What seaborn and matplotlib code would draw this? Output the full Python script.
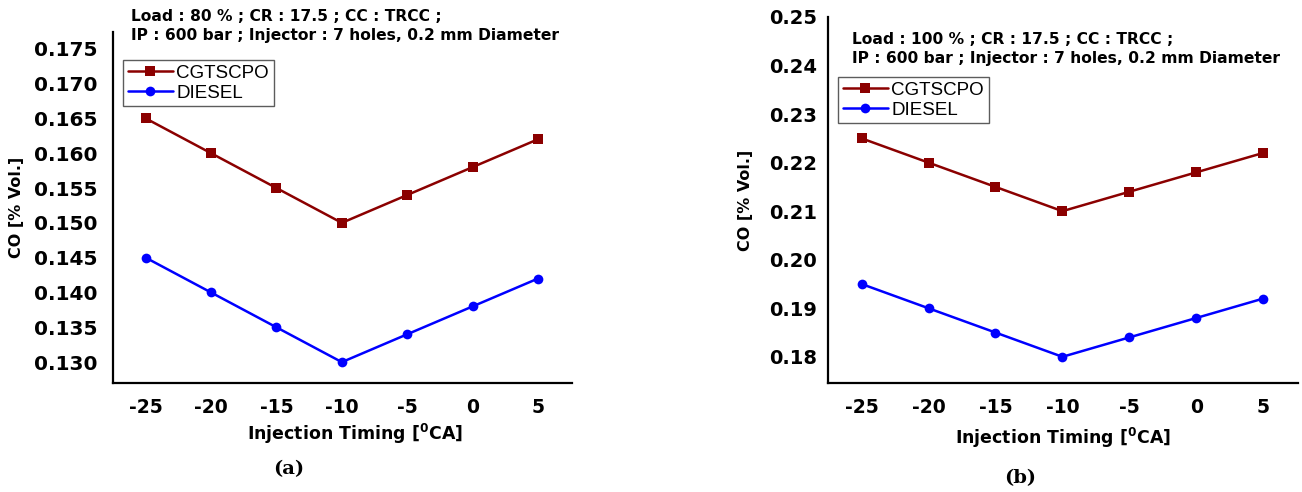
import numpy as np
import pandas as pd
import matplotlib
matplotlib.use("Agg")
import matplotlib.pyplot as plt
import seaborn as sns

# Injection timing sweep [deg CA]
timing = [-25, -20, -15, -10, -5, 0, 5]

# CO emissions [% Vol.] at 80 % load
co_cgtscpo_80 = [0.165, 0.160, 0.155, 0.150, 0.154, 0.158, 0.162]
co_diesel_80 = [0.145, 0.140, 0.135, 0.130, 0.134, 0.138, 0.142]

# CO emissions [% Vol.] at 100 % load
co_cgtscpo_100 = [0.225, 0.220, 0.215, 0.210, 0.214, 0.218, 0.222]
co_diesel_100 = [0.195, 0.190, 0.185, 0.180, 0.184, 0.188, 0.192]

fuels = ["CGTSCPO", "DIESEL"]
yticks_80 = [0.130, 0.135, 0.140, 0.145, 0.150, 0.155, 0.160, 0.165, 0.170, 0.175]
yticks_100 = [0.18, 0.19, 0.20, 0.21, 0.22, 0.23, 0.24, 0.25]
notes_80 = ["Load : 80 % ; CR : 17.5 ; CC : TRCC ;",
            "IP : 600 bar ; Injector : 7 holes, 0.2 mm Diameter"]
notes_100 = ["Load : 100 % ; CR : 17.5 ; CC : TRCC ;",
             "IP : 600 bar ; Injector : 7 holes, 0.2 mm Diameter"]


def make_frame(cgtscpo, diesel):
    return pd.DataFrame({
        "timing": timing * 2,
        "co": cgtscpo + diesel,
        "fuel": [fuels[0]] * len(timing) + [fuels[1]] * len(timing),
    })


sns.set_style("white")
plt.rcParams["font.family"] = ["DejaVu Sans"]
plt.rcParams["mathtext.fontset"] = "custom"
plt.rcParams["mathtext.bf"] = "DejaVu Sans:bold"
plt.rcParams["mathtext.rm"] = "DejaVu Sans:bold"
plt.rcParams["text.color"] = "black"
plt.rcParams["axes.labelcolor"] = "black"
plt.rcParams["xtick.color"] = "black"
plt.rcParams["ytick.color"] = "black"

palette = {"CGTSCPO": "#8B0000", "DIESEL": "#0000FF"}
markers = {"CGTSCPO": "s", "DIESEL": "o"}

fig = plt.figure(figsize=(13.02, 4.92), dpi=100)
ax1 = fig.add_axes([0.0868, 0.2215, 0.3525, 0.7134])
ax2 = fig.add_axes([0.636, 0.2215, 0.361, 0.744])


def draw_panel(ax, df, yticks, ylim, fmt, notes, note_xy, leg_anchor, tick_size, ypad):
    sns.lineplot(data=df, x="timing", y="co", hue="fuel", style="fuel",
                 palette=palette, markers=markers, dashes=False,
                 markersize=7, linewidth=1.8, markeredgewidth=0, ax=ax)
    ax.set_xlim(-27.5, 7.6)
    ax.set_ylim(*ylim)
    ax.set_xticks(timing)
    ax.set_xticklabels([str(t) for t in timing], fontweight="bold", fontsize=13.5)
    ax.set_yticks(yticks)
    ax.set_yticklabels([fmt.format(v) for v in yticks], fontweight="bold", fontsize=tick_size)
    ax.tick_params(axis="both", length=0)
    ax.tick_params(axis="y", pad=ypad)
    ax.tick_params(axis="x", pad=11)
    for side in ["top", "right"]:
        ax.spines[side].set_visible(False)
    for side in ["left", "bottom"]:
        ax.spines[side].set_color("black")
        ax.spines[side].set_linewidth(1.6)
    ax.set_xlabel(r"Injection Timing [$^{\mathbf{0}}$CA]", fontweight="bold", fontsize=12.5, labelpad=4)
    ax.set_ylabel("CO [% Vol.]", fontweight="bold", fontsize=11.5)
    ax.text(note_xy[0], note_xy[1], "\n".join(notes), transform=fig.transFigure,
            fontsize=11.2, fontweight="bold", va="top", ha="left", linespacing=1.35)
    leg = ax.legend(loc="upper left", bbox_to_anchor=leg_anchor, bbox_transform=fig.transFigure,
                    prop={"family": "Liberation Sans", "size": 13.5},
                    frameon=True, fancybox=False, handlelength=2.4,
                    handletextpad=0.2, borderpad=0.25, labelspacing=0.15, borderaxespad=0)
    leg.get_frame().set_edgecolor("#333333")
    leg.get_frame().set_linewidth(1.0)


draw_panel(ax1, make_frame(co_cgtscpo_80, co_diesel_80), yticks_80, (0.1270, 0.1774),
           "{:.3f}", notes_80, (131 / 1302, 1 - 9 / 492), (123 / 1302, 1 - 60 / 492), 14.5, 11)
draw_panel(ax2, make_frame(co_cgtscpo_100, co_diesel_100), yticks_100, (0.1746, 0.2500),
           "{:.2f}", notes_100, (852 / 1302, 1 - 32 / 492), (838 / 1302, 1 - 77 / 492), 14, 8)

ax1.yaxis.set_label_coords(-0.194, 0.5)
ax2.yaxis.set_label_coords(-0.16, 0.5)
ax1.xaxis.set_label_coords(0.527, -0.112)
ax2.xaxis.set_label_coords(0.5, -0.118)

fig.text(289 / 1302, 1 - 469 / 492, "(a)", family="DejaVu Serif", fontweight="bold",
         fontsize=14, ha="center", va="center")
fig.text(1020 / 1302, 1 - 478 / 492, "(b)", family="DejaVu Serif", fontweight="bold",
         fontsize=14, ha="center", va="center")

fig.savefig("out.png", dpi=100)
